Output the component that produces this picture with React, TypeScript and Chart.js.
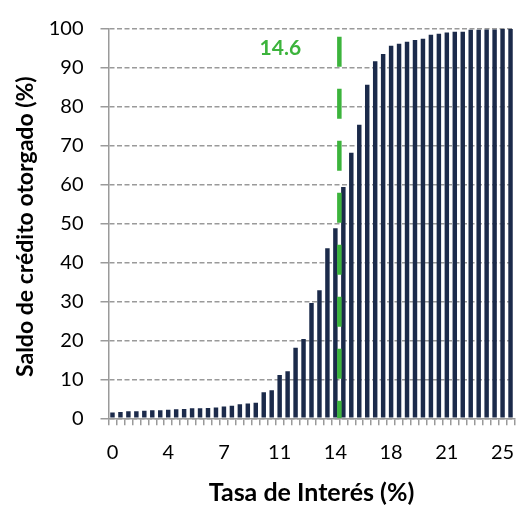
import React, { useEffect, useRef } from 'react';
import { Chart, registerables } from 'chart.js';

Chart.register(...registerables);

// Interest rate categories (%), one bar each
const rates = [
  0, 0.5, 1, 1.5, 2, 2.5, 3, 3.5, 4, 4.5, 5, 5.5, 6, 6.5, 7, 7.5, 8, 8.5, 9, 9.5,
  10, 10.5, 11, 11.5, 12, 12.5, 13, 13.5, 14, 14.5, 15, 15.5, 16, 16.5, 17, 17.5,
  18, 18.5, 19, 19.5, 20, 20.5, 21, 21.5, 22, 22.5, 23, 23.5, 24, 24.5, 25,
];

// Cumulative credit balance granted (%)
const creditShare = [
  1.5, 1.65, 1.8, 1.8, 1.95, 2.05, 2.05, 2.2, 2.3, 2.4, 2.6, 2.6, 2.65, 2.8, 3.0,
  3.25, 3.6, 3.8, 4.0, 6.7, 7.2, 11.1, 12.1, 18.1, 20.4, 29.6, 32.9, 43.7, 48.8,
  59.4, 68.2, 75.4, 85.7, 91.7, 93.6, 95.7, 96.2, 96.7, 97.2, 97.5, 98.5, 98.8,
  99.1, 99.3, 99.3, 99.8, 99.8, 99.9, 99.9, 100, 100,
];

// x labels shown on every 7th category
const xTickLabels = ['0', '4', '7', '11', '14', '18', '21', '25'];
const xLabelStep = 7;

const cutoffRate = 14.6;
const cutoffLabel = '14.6';
const cutoffSpan = [98, 0];

const xTitle = 'Tasa de Interés (%)';
const yTitle = 'Saldo de crédito otorgado (%)';

const barColor = '#1b2a4a';
const greenColor = '#3cb43c';
const gridColor = '#9a9a9a';
const fontFamily = 'Lato, "Open Sans", sans-serif';

const labelsPlugin = {
  id: 'labelsPlugin',
  afterDraw(chart: any) {
    const { ctx, chartArea, scales } = chart;
    ctx.save();
    ctx.textAlign = 'center';
    ctx.textBaseline = 'middle';

    // value label next to the cutoff line
    ctx.font = `bold 21px ${fontFamily}`;
    ctx.fillStyle = greenColor;
    ctx.fillText(
      cutoffLabel,
      scales.xLin.getPixelForValue(cutoffRate) - 59,
      scales.y.getPixelForValue(95)
    );

    // axis titles
    ctx.fillStyle = '#000';
    ctx.font = `bold 25px ${fontFamily}`;
    ctx.fillText(xTitle, (chartArea.left + chartArea.right) / 2, chartArea.bottom + 75);
    ctx.font = `bold 23px ${fontFamily}`;
    ctx.translate(26, (chartArea.top + chartArea.bottom) / 2 + 3);
    ctx.rotate(-Math.PI / 2);
    ctx.fillText(yTitle, 0, 0);
    ctx.restore();
  },
};

const CreditByRateChart: React.FC = () => {
  const chartRef = useRef<HTMLCanvasElement>(null);
  const chartInstance = useRef<Chart | null>(null);

  useEffect(() => {
    if (!chartRef.current) return;
    if (chartInstance.current) chartInstance.current.destroy();

    chartInstance.current = new Chart(chartRef.current, {
      type: 'bar',
      data: {
        labels: rates,
        datasets: [
          {
            type: 'line',
            data: cutoffSpan.map((v) => ({ x: cutoffRate, y: v })),
            xAxisID: 'xLin',
            borderColor: greenColor,
            borderWidth: 4.5,
            borderDash: [30, 22],
            pointRadius: 0,
            order: 0,
          } as any,
          {
            type: 'bar',
            data: creditShare,
            backgroundColor: barColor,
            grouped: false,
            categoryPercentage: 1,
            barPercentage: 0.56,
            order: 1,
          },
        ],
      },
      options: {
        responsive: true,
        maintainAspectRatio: false,
        animation: false,
        layout: { padding: { top: 18.3, right: 2.5, left: 0, bottom: 0 } },
        plugins: {
          legend: { display: false },
          tooltip: { enabled: false },
        },
        scales: {
          x: {
            type: 'category',
            offset: true,
            afterFit: (s: any) => {
              s.height = 89.7;
              s.paddingLeft = 0;
              s.paddingRight = 0;
            },
            grid: {
              offset: true,
              drawOnChartArea: false,
              color: gridColor,
              lineWidth: 1.5,
              tickLength: 7,
            },
            border: { color: gridColor, width: 1.5 },
            ticks: {
              autoSkip: false,
              maxRotation: 0,
              padding: 15,
              color: '#000',
              font: { family: fontFamily, size: 20 },
              callback: (_v: any, i: number) =>
                i % xLabelStep === 0 ? xTickLabels[i / xLabelStep] ?? '' : '',
            },
          },
          xLin: {
            type: 'linear',
            display: false,
            min: rates[0] - 0.25,
            max: rates[rates.length - 1] + 0.25,
          },
          y: {
            min: 0,
            max: 100,
            afterFit: (s: any) => {
              s.width = 108.5;
            },
            grid: {
              color: gridColor,
              lineWidth: 1.5,
              tickLength: 8,
              tickBorderDash: [],
            },
            border: { color: gridColor, width: 1.5, dash: [5, 2.5] },
            ticks: {
              stepSize: 10,
              padding: 17,
              color: '#000',
              font: { family: fontFamily, size: 20 },
            },
          },
        },
      } as any,
      plugins: [labelsPlugin],
    });

    return () => {
      if (chartInstance.current) {
        chartInstance.current.destroy();
        chartInstance.current = null;
      }
    };
  }, []);

  return (
    <div style={{ position: 'fixed', left: 0, top: 0, width: 517, height: 508, background: '#fff' }}>
      <canvas ref={chartRef} />
    </div>
  );
};

export default function App() {
  return <CreditByRateChart />;
}
